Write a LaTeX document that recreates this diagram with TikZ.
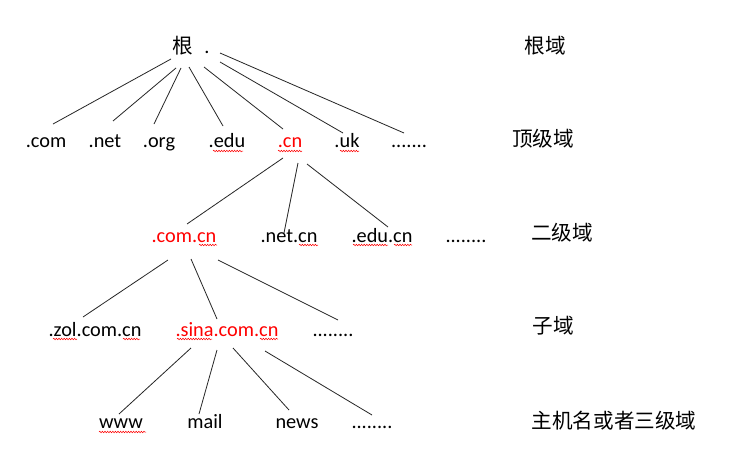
\documentclass[tikz,border=0pt]{standalone}
\usepackage{fontspec}
\setmainfont{Carlito}
\newfontfamily\cjk{Noto Sans CJK SC}
\usetikzlibrary{decorations.pathmorphing}
\begin{document}
\begin{tikzpicture}[x=1pt,y=-1pt,
  lbl/.style={inner sep=0pt, anchor=base, font=\fontsize{20.3}{24}\selectfont},
  hl/.style={text=red},
  zh/.style={inner sep=0pt, anchor=base, font=\fontsize{20.6}{24}\selectfont\cjk},
  edge/.style={line width=0.8pt, black!85},
  wavy/.style={red, line width=0.5pt, decorate, decoration={snake, segment length=2.6pt, amplitude=0.8pt}}
]
\useasboundingbox[fill=white] (0,0) rectangle (742,463);

% root
\node[zh]  (root) at (183,53) {根};
\node[lbl] (dot)  at (207,53) {.};

% top level
\node[lbl] (com) at (46,147) {.com};
\node[lbl] (net) at (105,147) {.net};
\node[lbl] (org) at (159,147) {.org};
\node[lbl] (edu) at (227,147) {.edu};
\node[lbl,hl] (cn) at (290,147) {.cn};
\node[lbl] (uk) at (347,147) {.uk};
\node[lbl] (tdots) at (409,147) {.......};

% second level
\node[lbl,hl] (comcn) at (184,242) {.com.cn};
\node[lbl] (netcn) at (289,242) {.net.cn};
\node[lbl] (educn) at (382,242) {.edu.cn};
\node[lbl] (sdots) at (466,242) {........};

% sub domains
\node[lbl] (zol) at (95,336) {.zol.com.cn};
\node[lbl,hl] (sina) at (227,336) {.sina.com.cn};
\node[lbl] (cdots) at (333,336) {........};

% hosts
\node[lbl] (www) at (121,428) {www};
\node[lbl] (mail) at (205,428) {mail};
\node[lbl] (news) at (297,428) {news};
\node[lbl] (hdots) at (372,428) {........};

% level labels
\node[zh] (l1) at (545,53) {根域};
\node[zh] (l2) at (543,146) {顶级域};
\node[zh] (l3) at (562,240) {二级域};
\node[zh] (l4) at (553,333) {子域};
\node[zh] (l5) at (614,428) {主机名或者三级域};

% connector end points
\coordinate (r1) at (171,59);  \coordinate (e1) at (53,124);
\coordinate (r2) at (176,68);  \coordinate (e2) at (113,121);
\coordinate (r3) at (181,68);  \coordinate (e3) at (154,124);
\coordinate (r4) at (189,67);  \coordinate (e4) at (223,126);
\coordinate (r5) at (204,67);  \coordinate (e5) at (283,129);
\coordinate (r6) at (220,62);  \coordinate (e6) at (343,133);
\coordinate (r7) at (220,53);  \coordinate (e7) at (404,133);

\coordinate (c1) at (283,158); \coordinate (f1) at (187,224);
\coordinate (c2) at (298,163); \coordinate (f2) at (284,233);
\coordinate (c3) at (307,164); \coordinate (f3) at (388,227);

\coordinate (m1) at (168,260); \coordinate (g1) at (83,317);
\coordinate (m2) at (191,259); \coordinate (g2) at (217,319);
\coordinate (m3) at (218,260); \coordinate (g3) at (338,320);

\coordinate (s1) at (191,348); \coordinate (h1) at (119,414);
\coordinate (s2) at (217,350); \coordinate (h2) at (199,414);
\coordinate (s3) at (233,348); \coordinate (h3) at (289,410);
\coordinate (s4) at (265,351); \coordinate (h4) at (372,415);

\foreach \a/\b in {r1/e1,r2/e2,r3/e3,r4/e4,r5/e5,r6/e6,r7/e7,
                   c1/f1,c2/f2,c3/f3,m1/g1,m2/g2,m3/g3,
                   s1/h1,s2/h2,s3/h3,s4/h4}
  \draw[edge] (\a) -- (\b);

% spell-check underlines
\foreach \xa/\xb/\yy in {213/243/151, 278/302/151, 340/359/151,
                         199/217/245, 299/318/245, 353/388/245, 394/412/245,
                         53/77/339, 123/140/339, 177/212/339, 260/278/339,
                         99/146/432}
  \draw[wavy] (\xa,\yy) -- (\xb,\yy);
\end{tikzpicture}
\end{document}
